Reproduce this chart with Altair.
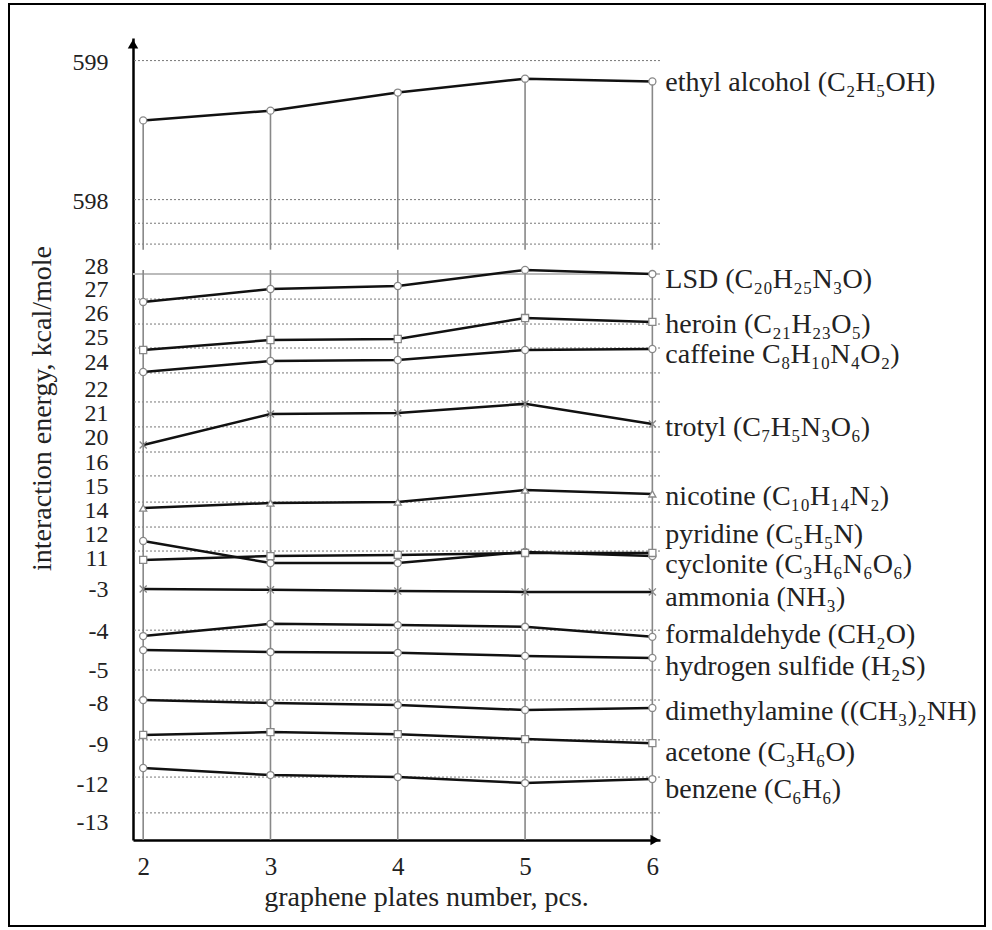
import altair as alt
import pandas as pd

# ---------------- data ----------------
x_vals = [2, 3, 4, 5, 6]

series_names = [
    "ethyl", "LSD", "heroin", "caffeine", "trotyl", "nicotine", "pyridine",
    "cyclonite", "ammonia", "formaldehyde", "hydrogen sulfide",
    "dimethylamine", "acetone", "benzene",
]

ethyl_alcohol = [598.58, 598.65, 598.78, 598.88, 598.86]
lsd = [26.46, 27.0, 27.13, 27.83, 27.65]
heroin = [24.48, 24.88, 24.92, 25.79, 25.63]
caffeine = [23.26, 24.04, 24.08, 24.48, 24.52]
trotyl = [18.72, 20.96, 21.0, 21.38, 20.54]
nicotine = [14.08, 14.29, 14.33, 14.83, 14.67]
pyridine = [11.71, 10.79, 10.79, 11.25, 11.08]
cyclonite = [10.92, 11.08, 11.13, 11.21, 11.21]
ammonia = [-3.0, -3.02, -3.05, -3.07, -3.07]
formaldehyde = [-4.13, -3.83, -3.86, -3.90, -4.15]
hydrogen_sulfide = [-4.49, -4.54, -4.56, -4.64, -4.69]
dimethylamine = [-7.73, -8.0, -8.05, -8.17, -8.12]
acetone = [-8.78, -8.71, -8.76, -8.88, -8.98]
benzene = [-10.8, -11.33, -11.48, -11.93, -11.63]

series_values = [
    ethyl_alcohol, lsd, heroin, caffeine, trotyl, nicotine, pyridine,
    cyclonite, ammonia, formaldehyde, hydrogen_sulfide, dimethylamine,
    acetone, benzene,
]

label_texts = [
    "ethyl alcohol (C₂H₅OH)",
    "LSD (C₂₀H₂₅N₃O)",
    "heroin (C₂₁H₂₃O₅)",
    "caffeine C₈H₁₀N₄O₂)",
    "trotyl (C₇H₅N₃O₆)",
    "nicotine (C₁₀H₁₄N₂)",
    "pyridine (C₅H₅N)",
    "cyclonite (C₃H₆N₆O₆)",
    "ammonia (NH₃)",
    "formaldehyde  (CH₂O)",
    "hydrogen sulfide (H₂S)",
    "dimethylamine  ((CH₃)₂NH)",
    "acetone (C₃H₆O)",
    "benzene (C₆H₆)",
]
label_y = [598.85, 27.39, 25.5, 24.28, 20.38, 14.54, 11.96, 10.71,
           -3.21, -4.10, -4.92, -8.22, -9.68, -12.16]

y_ticks = [599, 598, 28, 27, 26, 25, 24, 22, 21, 20, 16, 15, 14, 12, 11,
           -3, -4, -5, -8, -9, -12, -13]

# broken (piecewise) y scale: knots and where they fall on the axis
y_knots = [-13.47, -13, -12, -9, -8, -5, -4, -3, 10, 11, 12, 14, 15, 16,
           20, 21, 22, 24, 25, 26, 27, 28, 597.6, 598, 599, 599.17]
y_knot_range = [802, 784, 746, 706, 665, 632, 593, 551, 544, 520, 496, 472,
                448, 424, 399, 375, 351, 324, 299, 275, 251, 228, 218.6, 163,
                24, 0]

grid_dotted = [599.01, 598.01, 597.84, 597.69, 26.58, 25.54, 24.56, 23.19,
               21.46, 20.42, 17.6, 15.42, 14.33, 12.58, 11.29, -3.98, -5.0,
               -7.73, -8.9, -11.48, -12.76]
lower_panel_top_line = [27.65]
upper_panel_bottom = 597.65
lower_panel_top = 27.83
lower_panel_bottom = -13.47

x_domain = [1.92, 6.06]

# marker shapes (style)
X_SHAPE = "M-1,-1L1,1M-1,1L1,-1"
marker_shape = {
    "ethyl": "circle", "LSD": "circle", "heroin": "square",
    "caffeine": "circle", "trotyl": X_SHAPE, "nicotine": "triangle-up",
    "pyridine": "circle", "cyclonite": "square", "ammonia": X_SHAPE,
    "formaldehyde": "circle", "hydrogen sulfide": "circle",
    "dimethylamine": "circle", "acetone": "square", "benzene": "circle",
}

# ---------------- tables ----------------
rows = []
for name, vals in zip(series_names, series_values):
    for xv, yv in zip(x_vals, vals):
        rows.append({"series": name, "x": xv, "y": yv})
df = pd.DataFrame(rows)

labels_df = pd.DataFrame({"text": label_texts, "y": label_y,
                          "x": [x_vals[-1]] * len(label_texts)})
grid_df = pd.DataFrame({"y": grid_dotted})
top_df = pd.DataFrame({"y": lower_panel_top_line})
drop_df = pd.DataFrame({"x": x_vals, "y": ethyl_alcohol,
                        "y2": [upper_panel_bottom] * len(x_vals)})
vl_df = pd.DataFrame({"x": x_vals, "y": [lower_panel_top] * len(x_vals),
                      "y2": [lower_panel_bottom] * len(x_vals)})

FONT = "Liberation Serif"
W, H = 527, 802

y_scale = alt.Scale(domain=y_knots, range=y_knot_range, nice=False, zero=False)
x_scale = alt.Scale(domain=x_domain, nice=False, zero=False)

y_axis = alt.Axis(
    values=y_ticks, title="interaction energy, kcal/mole", ticks=False,
    grid=False, domainColor="black", domainWidth=2.5, labelFont=FONT,
    labelFontSize=24, labelColor="#222", labelPadding=25, labelOverlap=False,
    labelFlush=False, labelBound=False, labelExpr="'' + datum.value",
    titleFont=FONT, titleFontSize=28,
    titleFontWeight="normal", titleColor="#222", titleX=-91, titleY=370,
    titleAngle=270, titleAlign="center", titleBaseline="middle",
)
x_axis = alt.Axis(
    values=x_vals, format="d", title="graphene plates number, pcs.",
    ticks=False, grid=False, domainColor="black", domainWidth=2.5,
    labelFont=FONT, labelFontSize=25, labelColor="#222", labelPadding=14,
    labelFlush=False, labelOverlap=False, titleFont=FONT, titleFontSize=28,
    titleFontWeight="normal", titleColor="#222", titleX=293, titleY=57,
    titleAlign="center", titleBaseline="middle",
)


def X(field="x"):
    return alt.X(f"{field}:Q", scale=x_scale, axis=x_axis)


def Y(field="y"):
    return alt.Y(f"{field}:Q", scale=y_scale, axis=y_axis)


grid = alt.Chart(grid_df).mark_rule(
    color="#777", strokeWidth=1, strokeDash=[2, 2]
).encode(y=Y())

top_line = alt.Chart(top_df).mark_rule(color="#bbb", strokeWidth=2).encode(
    y=Y())

drops = alt.Chart(drop_df).mark_rule(color="#888", strokeWidth=1.6).encode(
    x=X(), y=Y(), y2="y2")

vlines = alt.Chart(vl_df).mark_rule(color="#888", strokeWidth=1.6).encode(
    x=X(), y=Y(), y2="y2")

lines = alt.Chart(df).mark_line(color="#111", strokeWidth=2.5).encode(
    x=X(), y=Y(), detail="series:N",
)

points = alt.Chart(df).mark_point(
    filled=True, fill="white", stroke="#888", strokeWidth=1.3, size=50, opacity=1
).encode(
    x=X(), y=Y(),
    shape=alt.Shape("series:N", scale=alt.Scale(
        domain=series_names, range=[marker_shape[s] for s in series_names]),
        legend=None),
)

texts = alt.Chart(labels_df).mark_text(
    align="left", baseline="middle", dx=13, font=FONT, fontSize=28,
    color="#222"
).encode(x=X(), y=Y(), text="text:N")

arrow_y = alt.Chart(pd.DataFrame({"a": [0]})).mark_point(
    shape="triangle-up", filled=True, color="black", size=110, opacity=1
).encode(x=alt.value(0), y=alt.value(6))

arrow_x = alt.Chart(pd.DataFrame({"a": [0]})).mark_point(
    shape="triangle-right", filled=True, color="black", size=110, opacity=1
).encode(x=alt.value(W - 5), y=alt.value(H))

frame = alt.Chart(pd.DataFrame({"a": [0]})).mark_rect(
    fill="transparent", stroke="black", strokeWidth=2
).encode(x=alt.value(-124), x2=alt.value(852), y=alt.value(-34),
         y2=alt.value(888))

chart = alt.layer(
    frame, grid, top_line, drops, vlines, lines, points, texts, arrow_y, arrow_x
).properties(
    width=W, height=H,
    autosize=alt.AutoSizeParams(type="none"),
    padding={"left": 133, "top": 38, "right": 992 - 133 - W, "bottom": 930 - 38 - H},
    background="white",
).configure_view(stroke=None)

chart.save("out.html", embed_options={"renderer": "svg", "actions": False})
